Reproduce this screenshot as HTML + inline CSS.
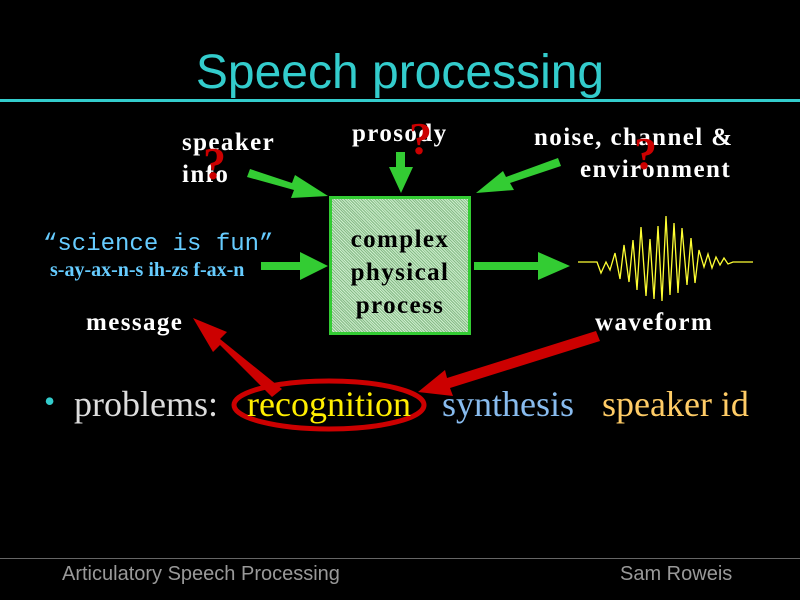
<!DOCTYPE html>
<html><head><style>
body{margin:0;background:#000;width:800px;height:600px;overflow:hidden;position:relative;font-family:"Liberation Serif",serif}
.t{position:absolute;white-space:nowrap}
.w{color:#fff;font-weight:bold;font-size:25px;letter-spacing:1.4px}
.q{color:#cc0000;font-weight:bold;font-size:46px}
</style></head><body>
<div class="t" style="left:0;width:800px;top:45px;text-align:center;font-family:'Liberation Sans',sans-serif;font-size:48px;color:#33cccc">Speech processing</div>
<div style="position:absolute;left:0;top:99px;width:800px;height:3px;background:#33cccc"></div>

<div class="t w" style="left:182px;top:129px">speaker</div>
<div class="t w" style="left:182px;top:161px">info</div>
<div class="t q" style="left:203px;top:137px">?</div>
<div class="t w" style="left:352px;top:120px">prosody</div>
<div class="t q" style="left:409px;top:112px">?</div>
<div class="t w" style="left:534px;top:124px">noise, channel &amp;</div>
<div class="t w" style="left:580px;top:156px">environment</div>
<div class="t q" style="left:634px;top:127px">?</div>

<div class="t" style="left:43px;top:231px;font-family:'Liberation Mono',monospace;font-size:24px;color:#66ccff">“science is fun”</div>
<div class="t" style="left:50px;top:259px;font-size:20px;font-weight:bold;color:#66ccff">s-ay-ax-n-s ih-zs f-ax-n</div>
<div class="t w" style="left:86px;top:309px">message</div>
<div class="t w" style="left:595px;top:309px">waveform</div>

<div style="position:absolute;left:329px;top:196px;width:136px;height:133px;border:3px solid #33cc33;background:#9c9;background-image:repeating-linear-gradient(45deg,#8b8 0 1px,#cec 1px 2px)"></div>
<div class="t" style="left:329px;top:223px;width:142px;text-align:center;font-weight:bold;font-size:25px;letter-spacing:1.4px;line-height:33px;color:#000">complex<br>physical<br>process</div>

<svg style="position:absolute;left:0;top:0" width="800" height="600">
<g fill="#33cc33">
<polygon points="250,169 292,183 295,175 328,196 291,198 294,190 247,177"/>
<polygon points="396,152 405,152 405,167 413,167 401,193 389,167 396,167"/>
<polygon points="558,158 561,166 510,183 514,190 476,193 503,171 506,177"/>
<polygon points="261,262 300,262 300,252 328,266 300,280 300,270 261,270"/>
<polygon points="474,262 538,262 538,252 570,266 538,280 538,270 474,270"/>
</g>
<g fill="#cc0000">
<polygon points="282,389 272,397 220,345 213,352 193,318 227,332 220,339"/>
<polygon points="596,331 600,341 450,388 453,396 418,392 445,370 447,378"/>
</g>
<ellipse cx="329" cy="405" rx="95" ry="24" fill="none" stroke="#cc0000" stroke-width="5"/>
<polyline fill="none" stroke="#ffff33" stroke-width="1.3" points="578,262 597,262 601,273 606,262 610,270 615,253 620,279 624,245 629,282 633,240 637,290 641,227 646,296 650,239 654,299 658,226 662,301 666,216 670,295 674,223 678,293 682,228 687,285 691,238 695,283 699,250 704,267 708,254 712,268 716,257 720,265 724,258 728,264 733,262 753,262"/>
</svg>

<div class="t" style="left:44px;top:383px;font-size:32px;color:#33cccc">•</div>
<div class="t" style="left:74px;top:383px;font-size:36px;color:#dddddd">problems:</div>
<div class="t" style="left:247px;top:383px;font-size:36px;color:#ffee00">recognition</div>
<div class="t" style="left:442px;top:383px;font-size:36px;color:#88bbee">synthesis</div>
<div class="t" style="left:602px;top:383px;font-size:36px;color:#ffcc66">speaker id</div>

<div style="position:absolute;left:0;top:558px;width:800px;height:1px;background:#666"></div>
<div class="t" style="left:62px;top:563px;font-family:'Liberation Sans',sans-serif;font-size:20px;color:#999">Articulatory Speech Processing</div>
<div class="t" style="left:620px;top:563px;font-family:'Liberation Sans',sans-serif;font-size:20px;color:#999">Sam Roweis</div>
</body></html>
